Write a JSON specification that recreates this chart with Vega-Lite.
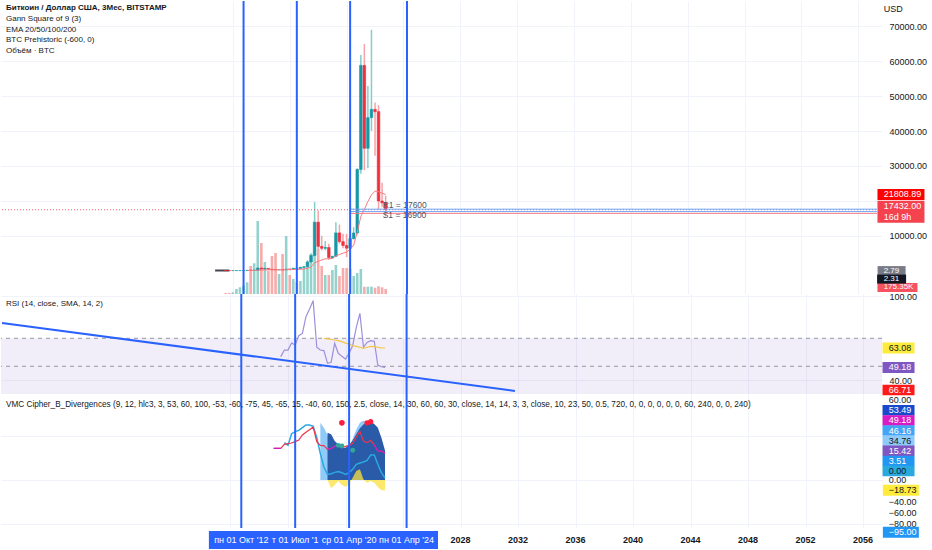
{
  "$schema": "https://vega.github.io/schema/vega-lite/v6.json",
  "padding": 0,
  "background": "white",
  "spacing": 0,
  "bounds": "flush",
  "config": {
    "view": {"stroke": null},
    "font": "Liberation Sans",
    "text": {"font": "Liberation Sans", "fontSize": 9},
    "axis": {"domain": false, "ticks": false, "gridColor": "#f0f3fa", "labelFont": "Liberation Sans", "labelFontSize": 9, "labelColor": "#131722", "labelOverlap": false, "zindex": 0},
    "title": {"anchor": "start", "frame": "group", "font": "Liberation Sans", "fontSize": 8, "fontWeight": "normal", "color": "#131722", "subtitleFont": "Liberation Sans", "subtitleFontSize": 8, "subtitleColor": "#131722", "subtitleLineHeight": 10.7, "subtitlePadding": 3, "dx": 5}
  },
  "datasets": {
    "candles": [
      {"date": "2011-07-01", "open": 15, "high": 15.5, "low": 2.2, "close": 5.1, "volume": 35000},
      {"date": "2011-10-01", "open": 5.1, "high": 6.2, "low": 2, "close": 4.7, "volume": 35000},
      {"date": "2012-01-01", "open": 4.7, "high": 7.2, "low": 4.2, "close": 4.9, "volume": 60000},
      {"date": "2012-04-01", "open": 4.9, "high": 7.2, "low": 4.6, "close": 6.7, "volume": 175000},
      {"date": "2012-07-01", "open": 6.7, "high": 15.4, "low": 6.5, "close": 12.4, "volume": 235000},
      {"date": "2012-10-01", "open": 12.4, "high": 13.8, "low": 9.6, "close": 13.5, "volume": 290000},
      {"date": "2013-01-01", "open": 13.5, "high": 96, "low": 13.3, "close": 93, "volume": 410000, "ema": 30},
      {"date": "2013-04-01", "open": 93, "high": 266, "low": 50, "close": 88, "volume": 980000, "ema": 36},
      {"date": "2013-07-01", "open": 88, "high": 145, "low": 65, "close": 124, "volume": 1075000, "ema": 44},
      {"date": "2013-10-01", "open": 124, "high": 1163, "low": 102, "close": 732, "volume": 2555000, "ema": 110},
      {"date": "2014-01-01", "open": 732, "high": 1000, "low": 410, "close": 448, "volume": 1785000, "ema": 142},
      {"date": "2014-04-01", "open": 448, "high": 680, "low": 340, "close": 640, "volume": 1120000, "ema": 190},
      {"date": "2014-07-01", "open": 640, "high": 650, "low": 360, "close": 386, "volume": 805000, "ema": 208},
      {"date": "2014-10-01", "open": 386, "high": 455, "low": 275, "close": 320, "volume": 1330000, "ema": 218},
      {"date": "2015-01-01", "open": 320, "high": 320, "low": 152, "close": 244, "volume": 1435000, "ema": 220},
      {"date": "2015-04-01", "open": 244, "high": 270, "low": 210, "close": 263, "volume": 700000, "ema": 224},
      {"date": "2015-07-01", "open": 263, "high": 318, "low": 199, "close": 237, "volume": 1400000, "ema": 225},
      {"date": "2015-10-01", "open": 237, "high": 505, "low": 236, "close": 430, "volume": 2030000, "ema": 245},
      {"date": "2016-01-01", "open": 430, "high": 465, "low": 350, "close": 416, "volume": 665000, "ema": 261},
      {"date": "2016-04-01", "open": 416, "high": 780, "low": 400, "close": 673, "volume": 525000, "ema": 300},
      {"date": "2016-07-01", "open": 673, "high": 680, "low": 470, "close": 609, "volume": 420000, "ema": 329},
      {"date": "2016-10-01", "open": 609, "high": 980, "low": 600, "close": 966, "volume": 455000, "ema": 390},
      {"date": "2017-01-01", "open": 966, "high": 1350, "low": 750, "close": 1080, "volume": 945000, "ema": 455},
      {"date": "2017-04-01", "open": 1080, "high": 3000, "low": 1060, "close": 2480, "volume": 980000, "ema": 650},
      {"date": "2017-07-01", "open": 2480, "high": 4980, "low": 1800, "close": 4330, "volume": 1400000, "ema": 1000},
      {"date": "2017-10-01", "open": 4330, "high": 19666, "low": 4100, "close": 13880, "volume": 1505000, "ema": 2225},
      {"date": "2018-01-01", "open": 13880, "high": 17250, "low": 5873, "close": 6930, "volume": 1575000, "ema": 2670},
      {"date": "2018-04-01", "open": 6930, "high": 9990, "low": 5750, "close": 6390, "volume": 980000, "ema": 3020},
      {"date": "2018-07-01", "open": 6390, "high": 8500, "low": 5860, "close": 6630, "volume": 665000, "ema": 3360},
      {"date": "2018-10-01", "open": 6630, "high": 7680, "low": 3120, "close": 3740, "volume": 665000, "ema": 3400},
      {"date": "2019-01-01", "open": 3740, "high": 4200, "low": 3350, "close": 4100, "volume": 840000, "ema": 3470},
      {"date": "2019-04-01", "open": 4100, "high": 13880, "low": 4040, "close": 10800, "volume": 1015000, "ema": 4170},
      {"date": "2019-07-01", "open": 10800, "high": 13200, "low": 7700, "close": 8300, "volume": 630000, "ema": 4600},
      {"date": "2019-10-01", "open": 8300, "high": 10540, "low": 6430, "close": 7200, "volume": 910000, "ema": 5000},
      {"date": "2020-01-01", "open": 7200, "high": 10500, "low": 3850, "close": 6420, "volume": 910000, "ema": 5300},
      {"date": "2020-04-01", "open": 6420, "high": 10430, "low": 6150, "close": 9140, "volume": 875000, "ema": 6100},
      {"date": "2020-07-01", "open": 9140, "high": 12470, "low": 8930, "close": 10780, "volume": 630000, "ema": 7300},
      {"date": "2020-10-01", "open": 10780, "high": 29300, "low": 10370, "close": 28990, "volume": 735000, "ema": 11000},
      {"date": "2021-01-01", "open": 28990, "high": 61780, "low": 27730, "close": 58800, "volume": 875000, "ema": 15500},
      {"date": "2021-04-01", "open": 58800, "high": 64900, "low": 28800, "close": 35040, "volume": 255000, "ema": 17500},
      {"date": "2021-07-01", "open": 35040, "high": 52900, "low": 29300, "close": 43830, "volume": 255000, "ema": 19800},
      {"date": "2021-10-01", "open": 43830, "high": 69000, "low": 40000, "close": 46200, "volume": 255000, "ema": 21700},
      {"date": "2022-01-01", "open": 46200, "high": 48200, "low": 32900, "close": 45540, "volume": 220000, "ema": 22800},
      {"date": "2022-04-01", "open": 45540, "high": 47400, "low": 17580, "close": 19950, "volume": 270000, "ema": 22600},
      {"date": "2022-07-01", "open": 19950, "high": 25200, "low": 18150, "close": 19420, "volume": 235000, "ema": 22200},
      {"date": "2022-10-01", "open": 19420, "high": 21480, "low": 15480, "close": 17432, "volume": 175350, "ema": 21808.89}
    ],
    "prehistoric": [
      {"date": "2010-10-01", "price": 0.3},
      {"date": "2011-01-01", "price": 0.8},
      {"date": "2011-04-01", "price": 16},
      {"date": "2011-07-01", "price": 5},
      {"date": "2011-10-01", "price": 4.7}
    ],
    "gann": [
      {"level": "R1", "price": 17600, "start": "2020-04-01", "label": "R1 = 17600"},
      {"level": "S1", "price": 16900, "start": "2020-04-01", "label": "S1 = 16900"},
      {"level": "S2", "price": 16400, "start": "2020-04-01"}
    ],
    "halvings": [
      {"date": "2012-10-01", "label": "пн 01 Окт '12"},
      {"date": "2016-07-01", "label": "т 01 Июл '1"},
      {"date": "2020-04-01", "label": "ср 01 Апр '20"},
      {"date": "2024-04-01", "label": "пн 01 Апр '24"}
    ],
    "years": [
      {"date": "2028-01-01", "label": "2028"},
      {"date": "2032-01-01", "label": "2032"},
      {"date": "2036-01-01", "label": "2036"},
      {"date": "2040-01-01", "label": "2040"},
      {"date": "2044-01-01", "label": "2044"},
      {"date": "2048-01-01", "label": "2048"},
      {"date": "2052-01-01", "label": "2052"},
      {"date": "2056-01-01", "label": "2056"}
    ],
    "rsi": [
      {"date": "2015-07-01", "rsi": 56.9},
      {"date": "2015-10-01", "rsi": 61.6},
      {"date": "2016-01-01", "rsi": 61.6},
      {"date": "2016-04-01", "rsi": 66.6},
      {"date": "2016-07-01", "rsi": 65.2},
      {"date": "2016-10-01", "rsi": 71.9},
      {"date": "2017-01-01", "rsi": 73.5},
      {"date": "2017-04-01", "rsi": 85.4},
      {"date": "2017-07-01", "rsi": 90.9},
      {"date": "2017-10-01", "rsi": 96.9},
      {"date": "2018-01-01", "rsi": 63.6},
      {"date": "2018-04-01", "rsi": 61.6},
      {"date": "2018-07-01", "rsi": 61.2, "ma": 70.0},
      {"date": "2018-10-01", "rsi": 52.1, "ma": 69.6},
      {"date": "2019-01-01", "rsi": 52.9, "ma": 69.3},
      {"date": "2019-04-01", "rsi": 66.4, "ma": 68.8},
      {"date": "2019-07-01", "rsi": 59.3, "ma": 68.3},
      {"date": "2019-10-01", "rsi": 57.1, "ma": 67.6},
      {"date": "2020-01-01", "rsi": 55.2, "ma": 66.6},
      {"date": "2020-04-01", "rsi": 59.3, "ma": 65.9},
      {"date": "2020-07-01", "rsi": 64.7, "ma": 64.7},
      {"date": "2020-10-01", "rsi": 77.8, "ma": 64.2},
      {"date": "2021-01-01", "rsi": 87.8, "ma": 63.6},
      {"date": "2021-04-01", "rsi": 63.6, "ma": 62.8},
      {"date": "2021-07-01", "rsi": 67.1, "ma": 63.6},
      {"date": "2021-10-01", "rsi": 68.3, "ma": 64.2},
      {"date": "2022-01-01", "rsi": 67.8, "ma": 64.0},
      {"date": "2022-04-01", "rsi": 50.9, "ma": 63.6},
      {"date": "2022-07-01", "rsi": 49.7, "ma": 63.2},
      {"date": "2022-10-01", "rsi": 49.18, "ma": 63.08}
    ],
    "trend": [
      {"date": "1996-02-08", "rsi": 80.98},
      {"date": "2031-10-15", "rsi": 32.36}
    ],
    "vmc": [
      {"date": "2015-01-01", "red": 57.6, "mseg": "a"},
      {"date": "2015-04-01", "red": 57.6, "mseg": "a"},
      {"date": "2015-07-01", "red": 57.6, "mseg": "a"},
      {"date": "2015-10-01", "red": 64.8, "cyan": 67.9},
      {"date": "2016-01-01", "red": 66.0, "cyan": 63.0},
      {"date": "2016-04-01", "red": 67.2, "cyan": 84.2},
      {"date": "2016-07-01", "red": 69.7, "cyan": 87.9},
      {"date": "2016-10-01", "red": 72.7, "cyan": 90.3},
      {"date": "2017-01-01", "red": 81.8, "cyan": 95.2},
      {"date": "2017-04-01", "red": 86.7, "cyan": 100},
      {"date": "2017-07-01", "red": 91.5, "cyan": 100},
      {"date": "2017-10-01", "red": 96.4, "cyan": 97.6},
      {"date": "2018-01-01", "red": 69.7, "cyan": 77},
      {"date": "2018-04-01", "red": 63.0, "cyan": 47.9, "wt1": 104},
      {"date": "2018-07-01", "red": 62.4, "cyan": 23.6, "wt1": 95},
      {"date": "2018-10-01", "red": 55.8, "cyan": 10.3, "wt1": 82, "wt2": 86, "vwap": 0, "mseg": "b"},
      {"date": "2019-01-01", "red": 57.6, "cyan": 11.5, "wt1": 70, "wt2": 83, "vwap": -15.2, "mseg": "b"},
      {"date": "2019-04-01", "red": 61.2, "cyan": 13.9, "wt1": 62, "wt2": 71, "vwap": -9.1, "mseg": "b"},
      {"date": "2019-07-01", "red": 61.8, "cyan": 15.2, "wt1": 55, "wt2": 65, "vwap": -1.8, "mseg": "b"},
      {"date": "2019-10-01", "red": 58.8, "cyan": 13.3, "wt1": 50, "wt2": 58.8, "vwap": -9.1},
      {"date": "2020-01-01", "red": 61.2, "cyan": 10.3, "wt1": 52, "wt2": 58.8, "vwap": -12.7},
      {"date": "2020-04-01", "red": 63.0, "cyan": 13.3, "wt1": 60, "wt2": 63.6, "vwap": -7.9},
      {"date": "2020-07-01", "red": 66.6, "cyan": 19.4, "wt1": 75, "wt2": 72, "vwap": 4.2},
      {"date": "2020-10-01", "red": 78.2, "cyan": 28.5, "wt1": 92, "wt2": 83, "vwap": 16.4},
      {"date": "2021-01-01", "red": 87.9, "cyan": 30.9, "wt1": 104, "wt2": 94, "vwap": 19.4},
      {"date": "2021-04-01", "red": 70.9, "cyan": 32.7, "wt1": 108, "wt2": 101, "vwap": 1.2},
      {"date": "2021-07-01", "red": 67.9, "cyan": 35.8, "wt1": 103, "wt2": 105, "vwap": -4.8},
      {"date": "2021-10-01", "red": 72.1, "cyan": 45.5, "wt1": 98, "wt2": 106, "vwap": -1.8},
      {"date": "2022-01-01", "red": 63.6, "cyan": 45.5, "wt1": 90, "wt2": 102, "vwap": -4.8, "mseg": "c"},
      {"date": "2022-04-01", "red": 52.7, "cyan": 28.5, "wt1": 75, "wt2": 95, "vwap": -12.7, "mseg": "c"},
      {"date": "2022-07-01", "red": 52.7, "cyan": 13.3, "wt1": 55, "wt2": 77, "vwap": -18.8, "mseg": "c"},
      {"date": "2022-10-01", "red": 49.18, "cyan": 3.51, "wt1": 34.76, "wt2": 53.49, "vwap": -18.73, "mseg": "c"}
    ],
    "vmc_dots": [
      {"date": "2019-07-01", "value": 63, "signal": "buy"},
      {"date": "2019-10-01", "value": 61.8, "signal": "buy"},
      {"date": "2020-07-01", "value": 54, "signal": "buy"},
      {"date": "2019-10-01", "value": 104, "signal": "div"},
      {"date": "2021-07-01", "value": 104, "signal": "sell"},
      {"date": "2021-10-01", "value": 106, "signal": "sell"}
    ],
    "vmc_scale_labels": [
      {"value": 0},
      {"value": -40},
      {"value": -60},
      {"value": -80}
    ],
    "vmc_stack": [
      {"name": "wt_sell", "value": 66.71},
      {"name": "ob_level", "value": 60},
      {"name": "wt2", "value": 53.49},
      {"name": "rsi_mfi", "value": 49.18},
      {"name": "wt1_line", "value": 46.16},
      {"name": "wt1", "value": 34.76},
      {"name": "stoch_d", "value": 15.42},
      {"name": "stoch_k", "value": 3.51},
      {"name": "mfi", "value": 0}
    ]
  },
  "vconcat": [
    {
      "width": 881,
      "height": 293,
      "title": {"text": "Биткоин / Доллар США, 3Мес, BITSTAMP", "subtitle": ["Gann Square of 9 (3)", "EMA 20/50/100/200", "BTC Prehistoric (-600, 0)", "Объём · BTC"], "fontWeight": "bold", "offset": -55},
      "layer": [
        {
          "layer": [
            {
              "data": {"name": "candles"},
              "mark": {"type": "bar", "width": 2.6, "opacity": 1},
              "encoding": {
                "x": {"field": "date", "type": "temporal", "scale": {"type": "utc", "domain": [{"year": 1996, "month": 1, "date": 14, "utc": true}, {"year": 2057, "month": 4, "date": 27, "utc": true}]}, "axis": {"values": [{"year": 2012, "utc": true}, {"year": 2016, "utc": true}, {"year": 2020, "utc": true}, {"year": 2024, "utc": true}, {"year": 2028, "utc": true}, {"year": 2032, "utc": true}, {"year": 2036, "utc": true}, {"year": 2040, "utc": true}, {"year": 2044, "utc": true}, {"year": 2048, "utc": true}, {"year": 2052, "utc": true}, {"year": 2056, "utc": true}], "labels": false, "grid": true}, "title": null},
                "y": {"field": "volume", "type": "quantitative", "scale": {"domain": [0, 10255000], "nice": false}, "axis": null, "title": null},
                "color": {"condition": {"test": "datum.close >= datum.open", "value": "#94d3cd"}, "value": "#f8abab"}
              }
            },
            {
              "data": {"values": [{"value": 175350, "label": "175.35K"}]},
              "mark": {"type": "tick", "orient": "horizontal", "size": 40, "thickness": 9, "yOffset": -1.5, "color": "#f7525f", "opacity": 1},
              "encoding": {
                "x": {"datum": {"year": 2058, "month": 10, "date": 5, "utc": true}, "type": "temporal", "title": null},
                "y": {"field": "value", "type": "quantitative", "title": null}
              }
            },
            {
              "data": {"values": [{"value": 175350, "label": "175.35K"}]},
              "mark": {"type": "text", "align": "left", "baseline": "middle", "dy": -1.5, "color": "white", "fontSize": 8},
              "encoding": {
                "x": {"datum": {"year": 2057, "month": 10, "date": 15, "utc": true}, "type": "temporal", "title": null},
                "y": {"field": "value", "type": "quantitative", "title": null},
                "text": {"field": "label"}
              }
            }
          ]
        },
        {
          "layer": [
            {
              "data": {"name": "prehistoric"},
              "mark": {"type": "line", "color": "#434651", "strokeWidth": 2, "strokeJoin": "round"},
              "encoding": {
                "x": {"field": "date", "type": "temporal", "scale": {"type": "utc", "domain": [{"year": 1996, "month": 1, "date": 14, "utc": true}, {"year": 2057, "month": 4, "date": 27, "utc": true}]}, "title": null},
                "y": {"field": "price", "type": "quantitative", "scale": {"domain": [-6705, 77250], "nice": false, "zero": false}, "axis": {"orient": "right", "values": [10000, 20000, 30000, 40000, 50000, 60000, 70000], "labelExpr": "datum.value == 20000 ? '' : format(datum.value, '.2f')", "labelAlign": "left", "labelPadding": 7, "grid": true}, "title": null}
              }
            },
            {
              "data": {"name": "candles"},
              "mark": {"type": "rule", "strokeWidth": 1.5},
              "encoding": {
                "x": {"field": "date", "type": "temporal", "scale": {"type": "utc", "domain": [{"year": 1996, "month": 1, "date": 14, "utc": true}, {"year": 2057, "month": 4, "date": 27, "utc": true}]}, "title": null},
                "y": {"field": "low", "type": "quantitative", "title": null},
                "y2": {"field": "high"},
                "color": {"condition": {"test": "datum.close >= datum.open", "value": "#83cfc8"}, "value": "#f7a2a6"}
              }
            },
            {
              "data": {"name": "candles"},
              "mark": {"type": "bar", "width": 2.6, "opacity": 1, "strokeWidth": 0.6},
              "encoding": {
                "x": {"field": "date", "type": "temporal", "scale": {"type": "utc", "domain": [{"year": 1996, "month": 1, "date": 14, "utc": true}, {"year": 2057, "month": 4, "date": 27, "utc": true}]}, "title": null},
                "y": {"field": "open", "type": "quantitative", "title": null},
                "y2": {"field": "close"},
                "color": {"condition": {"test": "datum.close >= datum.open", "value": "#1797a6"}, "value": "#f0303f"},
                "stroke": {"condition": {"test": "datum.close >= datum.open", "value": "#1797a6"}, "value": "#f0303f"}
              }
            },
            {
              "data": {"name": "candles"},
              "mark": {"type": "line", "color": "#f77c80", "strokeWidth": 1},
              "encoding": {
                "x": {"field": "date", "type": "temporal", "scale": {"type": "utc", "domain": [{"year": 1996, "month": 1, "date": 14, "utc": true}, {"year": 2057, "month": 4, "date": 27, "utc": true}]}, "title": null},
                "y": {"field": "ema", "type": "quantitative", "title": null}
              }
            },
            {
              "data": {"values": [{"price": 17432}]},
              "mark": {"type": "rule", "color": "#f23645", "strokeDash": [1, 2], "strokeWidth": 1, "opacity": 0.8},
              "encoding": {
                "y": {"field": "price", "type": "quantitative", "title": null}
              }
            },
            {
              "data": {"name": "gann"},
              "mark": {"type": "rule", "strokeWidth": 1},
              "encoding": {
                "x": {"field": "start", "type": "temporal", "scale": {"type": "utc", "domain": [{"year": 1996, "month": 1, "date": 14, "utc": true}, {"year": 2057, "month": 4, "date": 27, "utc": true}]}, "title": null},
                "x2": {"datum": {"year": 2057, "month": 4, "date": 27, "utc": true}},
                "y": {"field": "price", "type": "quantitative", "title": null},
                "color": {"field": "level", "type": "nominal", "scale": {"domain": ["R1", "S1", "S2"], "range": ["#6aa6f8", "#6aa6f8", "#f77c80"]}, "legend": null}
              }
            },
            {
              "data": {"name": "gann"},
              "transform": [{"filter": "datum.level == 'R1'"}],
              "mark": {"type": "text", "align": "left", "baseline": "middle", "dy": -4, "color": "#50535e", "fontSize": 8.5},
              "encoding": {
                "x": {"datum": {"year": 2022, "month": 7, "date": 15, "utc": true}, "type": "temporal", "title": null},
                "y": {"field": "price", "type": "quantitative", "title": null},
                "text": {"field": "label"}
              }
            },
            {
              "data": {"name": "gann"},
              "transform": [{"filter": "datum.level == 'S1'"}],
              "mark": {"type": "text", "align": "left", "baseline": "middle", "dy": 3, "color": "#50535e", "fontSize": 8.5},
              "encoding": {
                "x": {"datum": {"year": 2022, "month": 7, "date": 15, "utc": true}, "type": "temporal", "title": null},
                "y": {"field": "price", "type": "quantitative", "title": null},
                "text": {"field": "label"}
              }
            },
            {
              "data": {"name": "halvings"},
              "mark": {"type": "rule", "color": "#2962ff", "strokeWidth": 2},
              "encoding": {
                "x": {"field": "date", "type": "temporal", "scale": {"type": "utc", "domain": [{"year": 1996, "month": 1, "date": 14, "utc": true}, {"year": 2057, "month": 4, "date": 27, "utc": true}]}, "title": null}
              }
            },
            {
              "data": {"values": [{"unit": "USD"}]},
              "mark": {"type": "text", "align": "left", "baseline": "middle", "color": "#131722", "fontSize": 9},
              "encoding": {
                "x": {"datum": {"year": 2057, "month": 10, "date": 15, "utc": true}, "type": "temporal", "title": null},
                "y": {"datum": 74958, "type": "quantitative", "title": null},
                "text": {"field": "unit"}
              }
            },
            {
              "data": {"values": [{"value": 21808.89}]},
              "mark": {"type": "tick", "orient": "horizontal", "size": 47, "thickness": 11, "color": "#ff0000", "opacity": 1},
              "encoding": {
                "x": {"datum": {"year": 2059, "month": 1, "date": 3, "utc": true}, "type": "temporal", "title": null},
                "y": {"field": "value", "type": "quantitative", "title": null}
              }
            },
            {
              "data": {"values": [{"value": 21808.89}]},
              "mark": {"type": "text", "align": "left", "baseline": "middle", "color": "white", "fontSize": 9},
              "encoding": {
                "x": {"datum": {"year": 2057, "month": 10, "date": 15, "utc": true}, "type": "temporal", "title": null},
                "y": {"field": "value", "type": "quantitative", "title": null},
                "text": {"field": "value", "format": ".2f"}
              }
            },
            {
              "data": {"values": [{"value": 17432, "note": "16d 9h"}]},
              "mark": {"type": "tick", "orient": "horizontal", "size": 47, "thickness": 22, "yOffset": 2, "color": "#f5424f", "opacity": 1},
              "encoding": {
                "x": {"datum": {"year": 2059, "month": 1, "date": 3, "utc": true}, "type": "temporal", "title": null},
                "y": {"field": "value", "type": "quantitative", "title": null}
              }
            },
            {
              "data": {"values": [{"value": 17432, "note": "16d 9h"}]},
              "mark": {"type": "text", "align": "left", "baseline": "middle", "dy": -4, "color": "white", "fontSize": 9},
              "encoding": {
                "x": {"datum": {"year": 2057, "month": 10, "date": 15, "utc": true}, "type": "temporal", "title": null},
                "y": {"field": "value", "type": "quantitative", "title": null},
                "text": {"field": "value", "format": ".2f"}
              }
            },
            {
              "data": {"values": [{"value": 17432, "note": "16d 9h"}]},
              "mark": {"type": "text", "align": "left", "baseline": "middle", "dy": 7, "color": "white", "fontSize": 9},
              "encoding": {
                "x": {"datum": {"year": 2057, "month": 10, "date": 15, "utc": true}, "type": "temporal", "title": null},
                "y": {"field": "value", "type": "quantitative", "title": null},
                "text": {"field": "note"}
              }
            },
            {
              "data": {"values": [{"value": 2.79}]},
              "mark": {"type": "tick", "orient": "horizontal", "size": 28, "thickness": 9, "color": "#787b86", "opacity": 1},
              "encoding": {
                "x": {"datum": {"year": 2058, "month": 5, "date": 7, "utc": true}, "type": "temporal", "title": null},
                "y": {"field": "value", "type": "quantitative", "title": null}
              }
            },
            {
              "data": {"values": [{"value": 2.79}]},
              "mark": {"type": "text", "align": "left", "baseline": "middle", "color": "white", "fontSize": 8},
              "encoding": {
                "x": {"datum": {"year": 2057, "month": 10, "date": 15, "utc": true}, "type": "temporal", "title": null},
                "y": {"field": "value", "type": "quantitative", "title": null},
                "text": {"field": "value", "format": ".2f"}
              }
            },
            {
              "data": {"values": [{"value": 2.31}]},
              "mark": {"type": "tick", "orient": "horizontal", "size": 29, "thickness": 9, "yOffset": 8.5, "color": "#131722", "opacity": 1},
              "encoding": {
                "x": {"datum": {"year": 2058, "month": 5, "date": 7, "utc": true}, "type": "temporal", "title": null},
                "y": {"field": "value", "type": "quantitative", "title": null}
              }
            },
            {
              "data": {"values": [{"value": 2.31}]},
              "mark": {"type": "text", "align": "left", "baseline": "middle", "dy": 8.5, "color": "white", "fontSize": 8},
              "encoding": {
                "x": {"datum": {"year": 2057, "month": 10, "date": 15, "utc": true}, "type": "temporal", "title": null},
                "y": {"field": "value", "type": "quantitative", "title": null},
                "text": {"field": "value", "format": ".2f"}
              }
            }
          ]
        }
      ],
      "resolve": {"scale": {"y": "independent", "color": "independent"}}
    },
    {
      "width": 881,
      "height": 100,
      "title": {"text": "RSI (14, close, SMA, 14, 2)", "offset": -16},
      "layer": [
        {
          "data": {"values": [{}]},
          "mark": {"type": "rect", "color": "#7e57c2", "opacity": 0.1, "clip": true},
          "encoding": {
            "x": {"datum": {"year": 1996, "month": 1, "date": 14, "utc": true}, "type": "temporal", "scale": {"type": "utc", "domain": [{"year": 1996, "month": 1, "date": 14, "utc": true}, {"year": 2057, "month": 4, "date": 27, "utc": true}]}, "axis": {"values": [{"year": 2012, "utc": true}, {"year": 2016, "utc": true}, {"year": 2020, "utc": true}, {"year": 2024, "utc": true}, {"year": 2028, "utc": true}, {"year": 2032, "utc": true}, {"year": 2036, "utc": true}, {"year": 2040, "utc": true}, {"year": 2044, "utc": true}, {"year": 2048, "utc": true}, {"year": 2052, "utc": true}, {"year": 2056, "utc": true}], "labels": false, "grid": true}, "title": null},
            "x2": {"datum": {"year": 2057, "month": 4, "date": 27, "utc": true}},
            "y": {"datum": 70, "type": "quantitative", "scale": {"domain": [30.21, 101.64], "nice": false, "zero": false}, "axis": {"orient": "right", "values": [40, 60, 80, 100], "format": ".2f", "labelAlign": "left", "labelPadding": 7, "grid": true}, "title": null},
            "y2": {"datum": 30}
          }
        },
        {
          "data": {"values": [{"level": 70}, {"level": 50}]},
          "mark": {"type": "rule", "color": "#9598a1", "strokeDash": [4, 4], "strokeWidth": 1},
          "encoding": {
            "y": {"field": "level", "type": "quantitative", "title": null}
          }
        },
        {
          "data": {"name": "trend"},
          "mark": {"type": "line", "color": "#2962ff", "strokeWidth": 2, "strokeJoin": "round"},
          "encoding": {
            "x": {"field": "date", "type": "temporal", "scale": {"type": "utc", "domain": [{"year": 1996, "month": 1, "date": 14, "utc": true}, {"year": 2057, "month": 4, "date": 27, "utc": true}]}, "title": null},
            "y": {"field": "rsi", "type": "quantitative", "title": null}
          }
        },
        {
          "data": {"name": "rsi"},
          "mark": {"type": "line", "color": "#9d8fdb", "strokeWidth": 1.2},
          "encoding": {
            "x": {"field": "date", "type": "temporal", "scale": {"type": "utc", "domain": [{"year": 1996, "month": 1, "date": 14, "utc": true}, {"year": 2057, "month": 4, "date": 27, "utc": true}]}, "title": null},
            "y": {"field": "rsi", "type": "quantitative", "title": null}
          }
        },
        {
          "data": {"name": "rsi"},
          "mark": {"type": "line", "color": "#f5c542", "strokeWidth": 1.2},
          "encoding": {
            "x": {"field": "date", "type": "temporal", "scale": {"type": "utc", "domain": [{"year": 1996, "month": 1, "date": 14, "utc": true}, {"year": 2057, "month": 4, "date": 27, "utc": true}]}, "title": null},
            "y": {"field": "ma", "type": "quantitative", "title": null}
          }
        },
        {
          "data": {"name": "halvings"},
          "mark": {"type": "rule", "color": "#2962ff", "strokeWidth": 2},
          "encoding": {
            "x": {"field": "date", "type": "temporal", "scale": {"type": "utc", "domain": [{"year": 1996, "month": 1, "date": 14, "utc": true}, {"year": 2057, "month": 4, "date": 27, "utc": true}]}, "title": null}
          }
        },
        {
          "data": {"values": [{"name": "ma", "value": 63.08}, {"name": "rsi", "value": 49.18}]},
          "mark": {"type": "tick", "orient": "horizontal", "size": 32, "thickness": 11, "opacity": 1},
          "encoding": {
            "x": {"datum": {"year": 2058, "month": 6, "date": 21, "utc": true}, "type": "temporal", "title": null},
            "y": {"field": "value", "type": "quantitative", "title": null},
            "color": {"field": "name", "type": "nominal", "scale": {"domain": ["ma", "rsi"], "range": ["#ffeb3b", "#7e57c2"]}, "legend": null}
          }
        },
        {
          "data": {"values": [{"name": "ma", "value": 63.08}, {"name": "rsi", "value": 49.18}]},
          "mark": {"type": "text", "align": "left", "baseline": "middle", "fontSize": 9},
          "encoding": {
            "x": {"datum": {"year": 2057, "month": 10, "date": 15, "utc": true}, "type": "temporal", "title": null},
            "y": {"field": "value", "type": "quantitative", "title": null},
            "text": {"field": "value", "format": ".2f"},
            "color": {"condition": {"test": "datum.name == 'ma'", "value": "#131722"}, "value": "white"}
          }
        }
      ]
    },
    {
      "width": 881,
      "height": 134,
      "title": {"text": "VMC Cipher_B_Divergences (9, 12, hlc3, 3, 53, 60, 100, -53, -60, -75, 45, -65, 15, -40, 60, 150, 2.5, close, 14, 30, 60, 60, 30, close, 14, 14, 3, 3, close, 10, 23, 50, 0.5, 720, 0, 0, 0, 0, 0, 0, 60, 240, 0, 0, 240)", "offset": -24, "fontSize": 8.2},
      "layer": [
        {
          "layer": [
            {
              "data": {"name": "vmc"},
              "mark": {"type": "area", "color": "#90caf9", "opacity": 1},
              "encoding": {
                "x": {"field": "date", "type": "temporal", "scale": {"type": "utc", "domain": [{"year": 1996, "month": 1, "date": 14, "utc": true}, {"year": 2057, "month": 4, "date": 27, "utc": true}]}, "axis": {"values": [{"year": 2012, "utc": true}, {"year": 2016, "utc": true}, {"year": 2020, "utc": true}, {"year": 2024, "utc": true}, {"year": 2028, "utc": true}, {"year": 2032, "utc": true}, {"year": 2036, "utc": true}, {"year": 2040, "utc": true}, {"year": 2044, "utc": true}, {"year": 2048, "utc": true}, {"year": 2052, "utc": true}, {"year": 2056, "utc": true}], "labels": false, "grid": true}, "title": null},
                "y": {"field": "wt1", "type": "quantitative", "scale": {"domain": [-87.27, 156.36], "nice": false, "zero": false}, "axis": {"orient": "right", "values": [-80, -40, 0, 40, 80, 120], "labels": false, "grid": true}, "title": null},
                "y2": {"datum": 0}
              }
            },
            {
              "data": {"name": "vmc"},
              "mark": {"type": "area", "color": "#2a5ba8", "opacity": 1},
              "encoding": {
                "x": {"field": "date", "type": "temporal", "scale": {"type": "utc", "domain": [{"year": 1996, "month": 1, "date": 14, "utc": true}, {"year": 2057, "month": 4, "date": 27, "utc": true}]}, "title": null},
                "y": {"field": "wt2", "type": "quantitative", "title": null},
                "y2": {"datum": 0}
              }
            },
            {
              "data": {"name": "vmc"},
              "mark": {"type": "area", "color": "#fbe03c", "opacity": 0.75},
              "encoding": {
                "x": {"field": "date", "type": "temporal", "scale": {"type": "utc", "domain": [{"year": 1996, "month": 1, "date": 14, "utc": true}, {"year": 2057, "month": 4, "date": 27, "utc": true}]}, "title": null},
                "y": {"field": "vwap", "type": "quantitative", "title": null},
                "y2": {"datum": 0}
              }
            },
            {
              "data": {"name": "vmc"},
              "mark": {"type": "line", "color": "#2aa8e4", "strokeWidth": 1.5},
              "encoding": {
                "x": {"field": "date", "type": "temporal", "scale": {"type": "utc", "domain": [{"year": 1996, "month": 1, "date": 14, "utc": true}, {"year": 2057, "month": 4, "date": 27, "utc": true}]}, "title": null},
                "y": {"field": "cyan", "type": "quantitative", "title": null}
              }
            },
            {
              "data": {"name": "vmc"},
              "mark": {"type": "line", "color": "#f0344a", "strokeWidth": 1.2},
              "encoding": {
                "x": {"field": "date", "type": "temporal", "scale": {"type": "utc", "domain": [{"year": 1996, "month": 1, "date": 14, "utc": true}, {"year": 2057, "month": 4, "date": 27, "utc": true}]}, "title": null},
                "y": {"field": "red", "type": "quantitative", "title": null}
              }
            },
            {
              "data": {"name": "vmc"},
              "transform": [{"filter": "isValid(datum.mseg)"}],
              "mark": {"type": "line", "color": "#c51fc8", "strokeWidth": 1.2},
              "encoding": {
                "x": {"field": "date", "type": "temporal", "scale": {"type": "utc", "domain": [{"year": 1996, "month": 1, "date": 14, "utc": true}, {"year": 2057, "month": 4, "date": 27, "utc": true}]}, "title": null},
                "y": {"field": "red", "type": "quantitative", "title": null},
                "detail": {"field": "mseg"}
              }
            },
            {
              "data": {"name": "vmc_dots"},
              "mark": {"type": "circle", "opacity": 1},
              "encoding": {
                "x": {"field": "date", "type": "temporal", "scale": {"type": "utc", "domain": [{"year": 1996, "month": 1, "date": 14, "utc": true}, {"year": 2057, "month": 4, "date": 27, "utc": true}]}, "title": null},
                "y": {"field": "value", "type": "quantitative", "title": null},
                "color": {"field": "signal", "type": "nominal", "scale": {"domain": ["buy", "sell", "div"], "range": ["#30a99c", "#ff1e3c", "#ff1e3c"]}, "legend": null},
                "size": {"field": "signal", "type": "nominal", "scale": {"domain": ["buy", "sell", "div"], "range": [24, 32, 10]}, "legend": null}
              }
            },
            {
              "data": {"name": "halvings"},
              "mark": {"type": "rule", "color": "#2962ff", "strokeWidth": 2},
              "encoding": {
                "x": {"field": "date", "type": "temporal", "scale": {"type": "utc", "domain": [{"year": 1996, "month": 1, "date": 14, "utc": true}, {"year": 2057, "month": 4, "date": 27, "utc": true}]}, "title": null}
              }
            },
            {
              "data": {"name": "vmc_scale_labels"},
              "mark": {"type": "text", "align": "left", "baseline": "middle", "color": "#131722", "fontSize": 9},
              "encoding": {
                "x": {"datum": {"year": 2057, "month": 10, "date": 15, "utc": true}, "type": "temporal", "title": null},
                "y": {"field": "value", "type": "quantitative", "title": null},
                "text": {"field": "value", "format": ".2f"}
              }
            },
            {
              "data": {"values": [{"name": "vwap", "value": -18.73}, {"name": "low", "value": -95}]},
              "mark": {"type": "tick", "orient": "horizontal", "size": 36, "thickness": 11, "opacity": 1},
              "encoding": {
                "x": {"datum": {"year": 2058, "month": 8, "date": 19, "utc": true}, "type": "temporal", "title": null},
                "y": {"field": "value", "type": "quantitative", "title": null},
                "color": {"condition": {"test": "datum.name == 'vwap'", "value": "#ffeb3b"}, "value": "#2196f3"}
              }
            },
            {
              "data": {"values": [{"name": "vwap", "value": -18.73}, {"name": "low", "value": -95}]},
              "mark": {"type": "text", "align": "left", "baseline": "middle", "fontSize": 9},
              "encoding": {
                "x": {"datum": {"year": 2057, "month": 10, "date": 15, "utc": true}, "type": "temporal", "title": null},
                "y": {"field": "value", "type": "quantitative", "title": null},
                "text": {"field": "value", "format": ".2f"},
                "color": {"condition": {"test": "datum.name == 'vwap'", "value": "#131722"}, "value": "white"}
              }
            }
          ]
        },
        {
          "data": {"name": "vmc_stack"},
          "layer": [
            {
              "mark": {"type": "tick", "orient": "horizontal", "size": 32, "thickness": 10.5, "opacity": 1},
              "encoding": {
                "x": {"datum": {"year": 2058, "month": 6, "date": 21, "utc": true}, "type": "temporal", "title": null},
                "y": {"field": "name", "type": "ordinal", "scale": {"type": "point", "domain": ["wt_sell", "ob_level", "wt2", "rsi_mfi", "wt1_line", "wt1", "stoch_d", "stoch_k", "mfi"], "range": [-4, 77], "padding": 0}, "axis": null, "title": null},
                "color": {"field": "name", "type": "nominal", "scale": {"domain": ["wt_sell", "ob_level", "wt2", "rsi_mfi", "wt1_line", "wt1", "stoch_d", "stoch_k", "mfi"], "range": ["#ff1a1a", "transparent", "#1848cc", "#d81bc4", "#42a5f5", "#90caf9", "#7e57c2", "#2196f3", "#29a9dd"]}, "legend": null}
              }
            },
            {
              "mark": {"type": "text", "align": "left", "baseline": "middle", "fontSize": 9},
              "encoding": {
                "x": {"datum": {"year": 2057, "month": 10, "date": 15, "utc": true}, "type": "temporal", "title": null},
                "y": {"field": "name", "type": "ordinal", "axis": null, "title": null},
                "text": {"field": "value", "format": ".2f"},
                "color": {"condition": {"test": "datum.name == 'ob_level' || datum.name == 'wt1' || datum.name == 'mfi'", "value": "#131722"}, "value": "white"}
              }
            }
          ]
        }
      ],
      "resolve": {"scale": {"y": "independent", "color": "independent", "size": "independent"}}
    },
    {
      "width": 881,
      "height": 23,
      "layer": [
        {
          "data": {"values": [{}]},
          "mark": {"type": "rect", "color": "#2962ff"},
          "encoding": {
            "x": {"datum": {"year": 2010, "month": 7, "date": 1, "utc": true}, "type": "temporal", "scale": {"type": "utc", "domain": [{"year": 1996, "month": 1, "date": 14, "utc": true}, {"year": 2057, "month": 4, "date": 27, "utc": true}]}, "axis": null, "title": null},
            "x2": {"datum": {"year": 2026, "month": 6, "date": 8, "utc": true}},
            "y": {"datum": 0.87, "type": "quantitative", "scale": {"domain": [0, 1], "nice": false}, "axis": null, "title": null},
            "y2": {"datum": 0.087}
          }
        },
        {
          "data": {"name": "halvings"},
          "mark": {"type": "text", "color": "white", "fontSize": 9, "baseline": "middle"},
          "encoding": {
            "x": {"field": "date", "type": "temporal", "axis": null, "title": null},
            "y": {"datum": 0.478, "type": "quantitative", "axis": null, "title": null},
            "text": {"field": "label"}
          }
        },
        {
          "data": {"name": "years"},
          "mark": {"type": "text", "color": "#131722", "fontSize": 9, "fontWeight": "bold", "baseline": "middle"},
          "encoding": {
            "x": {"field": "date", "type": "temporal", "axis": null, "title": null},
            "y": {"datum": 0.478, "type": "quantitative", "axis": null, "title": null},
            "text": {"field": "label"}
          }
        }
      ]
    }
  ]
}
